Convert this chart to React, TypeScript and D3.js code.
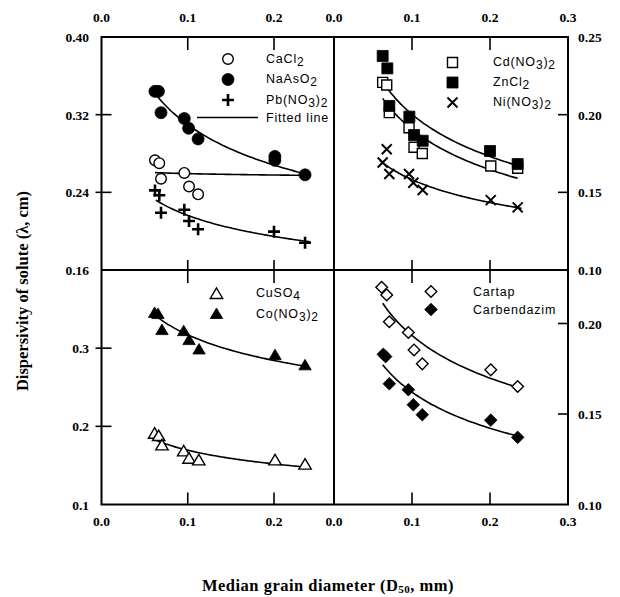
import React from "react";
import * as d3 from "d3";

// ---------- tick values ----------
const xTicksLeft = [0.0, 0.1, 0.2];
const xTicksRight = [0.0, 0.1, 0.2, 0.3];
const yTicksTL = [0.40, 0.32, 0.24, 0.16];
const yTicksTR = [0.25, 0.20, 0.15, 0.10];
const yTicksBL = [0.3, 0.2, 0.1];
const yTicksBR = [0.20, 0.15, 0.10];

// ---------- top-left panel ----------
const caCl2X = [0.062, 0.067, 0.069, 0.096, 0.1015, 0.112];
const caCl2Y = [0.273, 0.270, 0.254, 0.260, 0.246, 0.238];
const naAsO2X = [0.062, 0.066, 0.069, 0.096, 0.101, 0.112, 0.201, 0.201, 0.236];
const naAsO2Y = [0.344, 0.344, 0.322, 0.316, 0.306, 0.295, 0.277, 0.273, 0.258];
const pbX = [0.062, 0.067, 0.069, 0.096, 0.1015, 0.112, 0.2, 0.236];
const pbY = [0.242, 0.237, 0.219, 0.222, 0.2105, 0.202, 0.1995, 0.188];
const fitCaCl2 = [[0.062, 0.2603], [0.236, 0.2575]];
const fitNaAsO2 = [[0.062, 0.342], [0.236, 0.259]];
const fitPb = [[0.063, 0.232], [0.242, 0.189]];

// ---------- top-right panel ----------
const cdX = [0.0624, 0.0676, 0.0709, 0.0962, 0.1026, 0.1132, 0.201, 0.2355];
const cdY = [0.2208, 0.2191, 0.2013, 0.1916, 0.179, 0.175, 0.167, 0.1655];
const znX = [0.0624, 0.0684, 0.0709, 0.0966, 0.1026, 0.1137, 0.2, 0.2355];
const znY = [0.2378, 0.2298, 0.2056, 0.1987, 0.1869, 0.1832, 0.1766, 0.1682];
const niX = [0.0624, 0.0676, 0.0709, 0.0962, 0.1017, 0.1137, 0.201, 0.2355];
const niY = [0.1692, 0.1777, 0.1618, 0.1618, 0.1562, 0.1515, 0.145, 0.1403];
const fitZn = [[0.0667, 0.218], [0.2355, 0.1672]];
const fitCd = [[0.0624, 0.2105], [0.2355, 0.159]];
const fitNi = [[0.059, 0.1704], [0.2406, 0.1397]];

// ---------- bottom-left panel ----------
const coX = [0.0616, 0.0655, 0.0701, 0.0953, 0.1015, 0.1131, 0.2012, 0.236];
const coY = [0.345, 0.3436, 0.3231, 0.3218, 0.3103, 0.2983, 0.291, 0.278];
const cuX = [0.0616, 0.0663, 0.0701, 0.0953, 0.1015, 0.1128, 0.2012, 0.236];
const cuY = [0.1906, 0.1876, 0.1756, 0.168, 0.1586, 0.1564, 0.1564, 0.151];
const fitCo = [[0.0616, 0.3423], [0.236, 0.2769]];
const fitCu = [[0.0636, 0.182], [0.238, 0.1478]];

// ---------- bottom-right panel ----------
const cartapX = [0.0611, 0.0676, 0.0709, 0.0953, 0.1026, 0.1132, 0.201, 0.2355];
const cartapY = [0.22, 0.2158, 0.201, 0.195, 0.1854, 0.1777, 0.1744, 0.1652];
const carbX = [0.0632, 0.0662, 0.0709, 0.0953, 0.1017, 0.1132, 0.201, 0.2355];
const carbY = [0.183, 0.1817, 0.1667, 0.1634, 0.1551, 0.1496, 0.1466, 0.1371];
const fitCartap = [[0.0624, 0.2112], [0.2355, 0.1647]];
const fitCarb = [[0.0624, 0.1772], [0.2355, 0.1378]];

// ---------- layout ----------
const L = 101.5, M = 334, R = 568, T = 37, H = 270, B = 504.5;

const xL = d3.scaleLinear().domain([0, 0.2]).range([L, 274]);
const xR = d3.scaleLinear().domain([0, 0.3]).range([M, R]);
const yTL = d3.scaleLinear().domain([0.16, 0.40]).range([H, T]);
const yTR = d3.scaleLinear().domain([0.10, 0.25]).range([H, T]);
const yBL = d3.scaleLinear().domain([0.1, 0.4]).range([B, H]);
const yBR = d3.scaleLinear().domain([0.10, 0.20]).range([B, 323.5]);

type Sc = d3.ScaleLinear<number, number>;

function markerPath(kind: string): string {
  switch (kind) {
    case "circle": {
      const p = d3.path();
      p.arc(0, 0, 5.3, 0, Math.PI * 2);
      return p.toString();
    }
    case "fcircle": {
      const p = d3.path();
      p.arc(0, 0, 6, 0, Math.PI * 2);
      return p.toString();
    }
    case "plus":
      return "M-6,0H6M0,-6V6";
    case "cross":
      return "M-5,-5L5,5M-5,5L5,-5";
    case "square":
      return "M-5,-5H5V5H-5Z";
    case "fsquare":
      return "M-5.5,-5.5H5.5V5.5H-5.5Z";
    case "triangle":
      return "M0,-6L6.2,4.5H-6.2Z";
    case "diamond":
      return "M0,-5.8L5.8,0L0,5.8L-5.8,0Z";
    case "fdiamond":
      return "M0,-6.3L6.3,0L0,6.3L-6.3,0Z";
  }
  return "";
}

function markerStyle(kind: string, filled: boolean) {
  if (kind === "plus") return { fill: "none", stroke: "#000", strokeWidth: 2.6 };
  if (kind === "cross") return { fill: "none", stroke: "#000", strokeWidth: 2 };
  if (filled) return { fill: "#000", stroke: "#000", strokeWidth: 0.8 };
  return { fill: "#fff", stroke: "#000", strokeWidth: 1.4 };
}

function Marker({ kind, filled, x, y }: { kind: string; filled: boolean; x: number; y: number }) {
  return <path d={markerPath(kind)} transform={`translate(${x},${y})`} {...markerStyle(kind, filled)} />;
}

function Series({ xs, ys, sx, sy, kind, filled }: { xs: number[]; ys: number[]; sx: Sc; sy: Sc; kind: string; filled: boolean }) {
  return (
    <g>
      {xs.map((v, i) => (
        <Marker key={i} kind={kind} filled={filled} x={sx(v)} y={sy(ys[i])} />
      ))}
    </g>
  );
}

function Fit({ ends, sx, sy }: { ends: number[][]; sx: Sc; sy: Sc }) {
  const [[x0, y0], [x1, y1]] = ends;
  const b = Math.log(y1 / y0) / Math.log(x1 / x0);
  const a = y0 / Math.pow(x0, b);
  const pts = d3.range(0, 41).map((i) => {
    const x = x0 + ((x1 - x0) * i) / 40;
    return [x, a * Math.pow(x, b)] as [number, number];
  });
  const line = d3
    .line<[number, number]>()
    .x((d) => sx(d[0]))
    .y((d) => sy(d[1]))
    .curve(d3.curveMonotoneX);
  return <path d={line(pts) || ""} fill="none" stroke="#000" strokeWidth={1.6} />;
}

const legFont = { fontFamily: "Liberation Sans, Arial, sans-serif", fontSize: 12.5, letterSpacing: 0.8 } as const;

function Sub({ children }: { children: React.ReactNode }) {
  return (
    <tspan dy={3} fontSize={12}>
      {children}
    </tspan>
  );
}

export default function App() {
  const tickLen = 10;
  const tickFont = { fontFamily: "Liberation Serif, Times New Roman, serif", fontWeight: 700, fontSize: 13.5 } as const;
  const fmt2 = d3.format(".2f");
  const fmt1 = d3.format(".1f");

  return (
    <svg width={620} height={597} style={{ position: "absolute", left: 0, top: 0, background: "#fff" }}>
      <rect x={0} y={0} width={620} height={597} fill="#fff" />
      {/* frame */}
      <g stroke="#000" strokeWidth={2} fill="none">
        <rect x={L} y={T} width={R - L} height={B - T} />
        <line x1={M} y1={T} x2={M} y2={B} />
        <line x1={L} y1={H} x2={R} y2={H} />
      </g>
      {/* x ticks */}
      <g stroke="#000" strokeWidth={1.6}>
        {xTicksLeft.filter((v) => v > 0).map((v) => (
          <g key={"xl" + v}>
            <line x1={xL(v)} x2={xL(v)} y1={T} y2={T + tickLen + 3} />
            <line x1={xL(v)} x2={xL(v)} y1={H - tickLen} y2={H + tickLen + 3} />
            <line x1={xL(v)} x2={xL(v)} y1={B} y2={B - tickLen - 2} />
          </g>
        ))}
        {xTicksRight.filter((v) => v > 0 && v < 0.3).map((v) => (
          <g key={"xr" + v}>
            <line x1={xR(v)} x2={xR(v)} y1={T} y2={T + tickLen + 3} />
            <line x1={xR(v)} x2={xR(v)} y1={H - tickLen} y2={H + tickLen + 3} />
            <line x1={xR(v)} x2={xR(v)} y1={B} y2={B - tickLen - 2} />
          </g>
        ))}
        {yTicksTL.slice(1, 3).map((v) => (
          <line key={"ytl" + v} x1={L - 6} x2={L + tickLen} y1={yTL(v)} y2={yTL(v)} />
        ))}
        {yTicksBL.slice(0, 2).map((v) => (
          <line key={"ybl" + v} x1={L - 6} x2={L + tickLen} y1={yBL(v)} y2={yBL(v)} />
        ))}
        {yTicksTR.slice(1, 3).map((v) => (
          <line key={"ytr" + v} x1={R - tickLen} x2={R} y1={yTR(v)} y2={yTR(v)} />
        ))}
        {yTicksBR.slice(0, 2).map((v) => (
          <line key={"ybr" + v} x1={R - tickLen} x2={R} y1={yBR(v)} y2={yBR(v)} />
        ))}
      </g>
      {/* tick labels */}
      <g {...tickFont} fill="#000">
        {xTicksLeft.map((v) => (
          <text key={"tl" + v} x={xL(v)} y={22} textAnchor="middle">{fmt1(v)}</text>
        ))}
        {xTicksRight.map((v) => (
          <text key={"tr" + v} x={xR(v)} y={22} textAnchor="middle">{fmt1(v)}</text>
        ))}
        {xTicksLeft.map((v) => (
          <text key={"bl" + v} x={xL(v)} y={526} textAnchor="middle">{fmt1(v)}</text>
        ))}
        {xTicksRight.map((v) => (
          <text key={"br" + v} x={xR(v)} y={526} textAnchor="middle">{fmt1(v)}</text>
        ))}
        {yTicksTL.map((v) => (
          <text key={"ltl" + v} x={89} y={yTL(v) + 5} textAnchor="end">{fmt2(v)}</text>
        ))}
        {yTicksBL.map((v) => (
          <text key={"lbl" + v} x={89} y={yBL(v) + 5} textAnchor="end">{fmt1(v)}</text>
        ))}
        {yTicksTR.map((v) => (
          <text key={"rtr" + v} x={578} y={yTR(v) + 5}>{fmt2(v)}</text>
        ))}
        {yTicksBR.map((v) => (
          <text key={"rbr" + v} x={578} y={yBR(v) + 5}>{fmt2(v)}</text>
        ))}
      </g>

      {/* top-left */}
      <Fit ends={fitNaAsO2} sx={xL} sy={yTL} />
      <Fit ends={fitCaCl2} sx={xL} sy={yTL} />
      <Fit ends={fitPb} sx={xL} sy={yTL} />
      <Series xs={caCl2X} ys={caCl2Y} sx={xL} sy={yTL} kind="circle" filled={false} />
      <Series xs={naAsO2X} ys={naAsO2Y} sx={xL} sy={yTL} kind="fcircle" filled={true} />
      <Series xs={pbX} ys={pbY} sx={xL} sy={yTL} kind="plus" filled={false} />

      {/* top-right */}
      <Fit ends={fitZn} sx={xR} sy={yTR} />
      <Fit ends={fitCd} sx={xR} sy={yTR} />
      <Fit ends={fitNi} sx={xR} sy={yTR} />
      <Series xs={cdX} ys={cdY} sx={xR} sy={yTR} kind="square" filled={false} />
      <Series xs={znX} ys={znY} sx={xR} sy={yTR} kind="fsquare" filled={true} />
      <Series xs={niX} ys={niY} sx={xR} sy={yTR} kind="cross" filled={false} />

      {/* bottom-left */}
      <Fit ends={fitCo} sx={xL} sy={yBL} />
      <Fit ends={fitCu} sx={xL} sy={yBL} />
      <Series xs={cuX} ys={cuY} sx={xL} sy={yBL} kind="triangle" filled={false} />
      <Series xs={coX} ys={coY} sx={xL} sy={yBL} kind="triangle" filled={true} />

      {/* bottom-right */}
      <Fit ends={fitCartap} sx={xR} sy={yBR} />
      <Fit ends={fitCarb} sx={xR} sy={yBR} />
      <Series xs={cartapX} ys={cartapY} sx={xR} sy={yBR} kind="diamond" filled={false} />
      <Series xs={carbX} ys={carbY} sx={xR} sy={yBR} kind="fdiamond" filled={true} />

      {/* legends */}
      <g {...legFont} fill="#000">
        <Marker kind="circle" filled={false} x={228} y={59} />
        <Marker kind="fcircle" filled={true} x={228} y={79.5} />
        <Marker kind="plus" filled={false} x={228} y={100} />
        <line x1={197} x2={258} y1={117.5} y2={117.5} stroke="#000" strokeWidth={1.6} />
        <text x={266} y={63}>CaCl<Sub>2</Sub></text>
        <text x={266} y={83}>NaAsO<Sub>2</Sub></text>
        <text x={266} y={104}>Pb(NO<Sub>3</Sub><tspan dy={-3}>)</tspan><Sub>2</Sub></text>
        <text x={266} y={122}>Fitted line</text>

        <Marker kind="square" filled={false} x={452.5} y={62.5} />
        <Marker kind="fsquare" filled={true} x={452.5} y={82.5} />
        <Marker kind="cross" filled={false} x={452.5} y={102.5} />
        <text x={493} y={66}>Cd(NO<Sub>3</Sub><tspan dy={-3}>)</tspan><Sub>2</Sub></text>
        <text x={493} y={86}>ZnCl<Sub>2</Sub></text>
        <text x={493} y={106}>Ni(NO<Sub>3</Sub><tspan dy={-3}>)</tspan><Sub>2</Sub></text>

        <Marker kind="triangle" filled={false} x={216.5} y={294} />
        <Marker kind="triangle" filled={true} x={216.5} y={314} />
        <text x={256} y={297}>CuSO<Sub>4</Sub></text>
        <text x={256} y={318}>Co(NO<Sub>3</Sub><tspan dy={-3}>)</tspan><Sub>2</Sub></text>

        <Marker kind="diamond" filled={false} x={431} y={291.5} />
        <Marker kind="fdiamond" filled={true} x={431} y={309.5} />
        <text x={473} y={296}>Cartap</text>
        <text x={473} y={313.5}>Carbendazim</text>
      </g>

      {/* axis titles */}
      <text
        transform="translate(28,291) rotate(-90)"
        textAnchor="middle"
        fontFamily="Liberation Serif, Times New Roman, serif"
        fontWeight={700}
        fontSize={16.5}
        fill="#000"
      >
        Dispersivity of solute (λ, cm)
      </text>
      <text
        x={328}
        y={591}
        textAnchor="middle"
        fontFamily="Liberation Serif, Times New Roman, serif"
        fontWeight={700}
        fontSize={16.5}
        letterSpacing={0.5}
        fill="#000"
      >
        Median grain diameter (D<tspan fontSize={11} dy={2}>50</tspan><tspan dy={-2}>, mm)</tspan>
      </text>
    </svg>
  );
}
